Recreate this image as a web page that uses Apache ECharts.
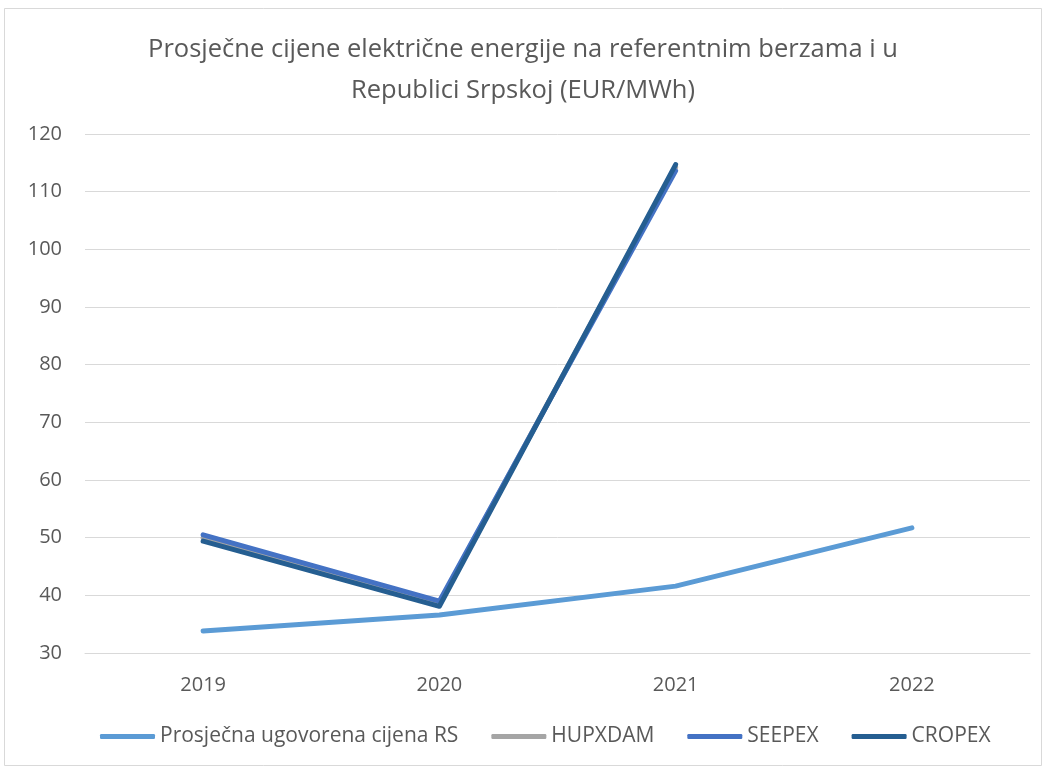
<!DOCTYPE html>
<html>
<head>
<meta charset="utf-8">
<script src="https://cdn.jsdelivr.net/npm/echarts@6/dist/echarts.min.js"></script>
<style>
  html, body { margin: 0; padding: 0; background: #fff; }
</style>
</head>
<body>
<!-- chart container -->
<div id="main" style="width: 1046px; height: 769px;"></div>
<script>
var years = ['2019', '2020', '2021', '2022']
var rsPrice = [33.8, 36.6, 41.6, 51.7]
var hupx = [50.0, 38.7, 114.2, null]
var seepex = [50.5, 39.0, 113.6, null]
var cropex = [49.4, 38.1, 114.7, null]

var font = '"Open Sans", sans-serif'

var chart = echarts.init(document.getElementById('main'))
var option = {
  backgroundColor: '#fff',
  textStyle: { fontFamily: font },
  title: {
    text: 'Prosječne cijene električne energije na referentnim berzama i u\nRepublici Srpskoj (EUR/MWh)',
    left: 'center',
    top: 24,
    textStyle: {
      color: '#595959',
      fontSize: 25.5,
      fontWeight: 'normal',
      lineHeight: 41,
      fontFamily: font
    }
  },
  graphic: [{
    type: 'rect',
    shape: { x: 4.5, y: 8.5, width: 1037, height: 757 },
    style: { fill: 'none', stroke: '#D9D9D9', lineWidth: 1 },
    silent: true
  }],
  legend: {
    bottom: 17,
    left: 95,
    itemWidth: 55,
    itemHeight: 5,
    itemGap: 33,
    icon: 'roundRect',
    textStyle: { color: '#595959', fontSize: 21, fontFamily: font },
    data: ['Prosječna ugovorena cijena RS', 'HUPXDAM', 'SEEPEX', 'CROPEX']
  },
  grid: {
    left: 85,
    right: 16,
    top: 134,
    bottom: 116
  },
  xAxis: {
    type: 'category',
    data: years,
    boundaryGap: true,
    axisLine: { lineStyle: { color: '#D9D9D9', width: 1 } },
    axisTick: { show: false },
    axisLabel: { color: '#595959', fontSize: 20, margin: 22 }
  },
  yAxis: {
    type: 'value',
    min: 30,
    max: 120,
    interval: 10,
    axisLine: { show: false },
    axisTick: { show: false },
    axisLabel: { color: '#595959', fontSize: 20, margin: 23 },
    splitLine: { lineStyle: { color: '#D9D9D9', width: 1 } }
  },
  series: [
    {
      name: 'Prosječna ugovorena cijena RS',
      type: 'line',
      data: rsPrice,
      symbol: 'none',
      itemStyle: { color: '#5B9BD5' },
      lineStyle: { color: '#5B9BD5', width: 5, cap: 'round', join: 'round' }
    },
    {
      name: 'HUPXDAM',
      type: 'line',
      data: hupx,
      symbol: 'none',
      itemStyle: { color: '#A5A5A5' },
      lineStyle: { color: '#A5A5A5', width: 5, cap: 'round', join: 'round' }
    },
    {
      name: 'SEEPEX',
      type: 'line',
      data: seepex,
      symbol: 'none',
      itemStyle: { color: '#4472C4' },
      lineStyle: { color: '#4472C4', width: 5, cap: 'round', join: 'round' }
    },
    {
      name: 'CROPEX',
      type: 'line',
      data: cropex,
      symbol: 'none',
      itemStyle: { color: '#255E91' },
      lineStyle: { color: '#255E91', width: 5, cap: 'round', join: 'round' }
    }
  ]
}
chart.setOption(option)
</script>
</body>
</html>
